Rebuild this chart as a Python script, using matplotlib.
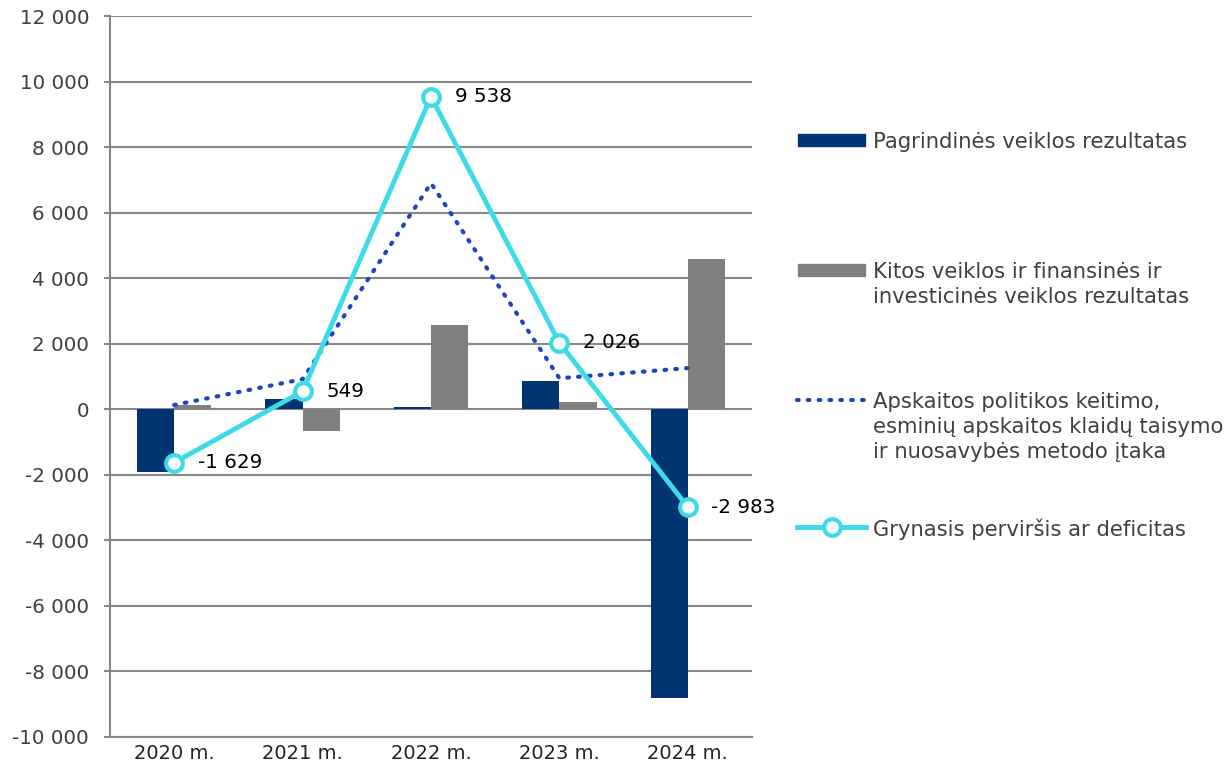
import numpy as np
import matplotlib.pyplot as plt
from matplotlib.lines import Line2D
from matplotlib.patches import Rectangle

plt.rcParams['font.family'] = ['DejaVu Sans']

years = ["2020 m.", "2021 m.", "2022 m.", "2023 m.", "2024 m."]
pagrindines = [-1900, 300, 80, 860, -8820]
kitos = [140, -670, 2560, 220, 4580]
apskaitos = [131, 919, 6898, 946, 1257]
grynasis = [-1629, 549, 9538, 2026, -2983]

labels = ["Pagrindinės veiklos rezultatas",
          "Kitos veiklos ir finansinės ir\ninvesticinės veiklos rezultatas",
          "Apskaitos politikos keitimo,\nesminių apskaitos klaidų taisymo\nir nuosavybės metodo įtaka",
          "Grynasis perviršis ar deficitas"]

navy = "#003473"
grey = "#808080"
dotblue = "#1f45c0"
cyan = "#3ddbe8"

def fmt(v):
    s = f"{abs(int(v)):,}".replace(",", " ")
    return ("-" if v < 0 else "") + s

fig = plt.figure(figsize=(12.29, 7.7), dpi=100)
ax = fig.add_axes([110/1229, 33/770, 642/1229, 721/770])

x = np.arange(len(years))
w = 0.29
ax.bar(x - w/2, pagrindines, w, color=navy, zorder=2)
ax.bar(x + w/2, kitos, w, color=grey, zorder=2)
ax.plot(x, apskaitos, color=dotblue, lw=3, ls=(0, (0.4, 2.2)), dash_capstyle='round', zorder=3)
ax.plot(x, grynasis, color=cyan, lw=3.5, marker='o', ms=12, mfc='white', mec=cyan, mew=3, zorder=4)

for xi, v in zip(x, grynasis):
    ax.annotate(fmt(v), (xi, v), xytext=(17, 0), textcoords='offset points',
                va='center', ha='left', fontsize=14.3, color='black', zorder=5)

ax.set_xlim(-0.5, 4.5)
ax.set_ylim(-10000, 12000)
ax.set_yticks(np.arange(-10000, 12001, 2000))
ax.set_yticklabels([fmt(t) for t in np.arange(-10000, 12001, 2000)])
ax.set_xticks(x)
ax.set_xticklabels(years)
ax.tick_params(axis='y', length=4.5, width=1.5, color='#888888', labelsize=14.3, labelcolor='#404040', pad=10.5)
ax.tick_params(axis='x', length=0, labelsize=14, labelcolor='#222222', pad=5)
ax.grid(axis='y', color='#888888', lw=1.5, zorder=0)
for s in ['top', 'right']:
    ax.spines[s].set_visible(False)
ax.spines['left'].set_color('#888888')
ax.spines['left'].set_linewidth(1.5)
ax.spines['bottom'].set_color('#888888')
ax.spines['bottom'].set_linewidth(1.5)

# legend, drawn by hand so handles line up with the first text line
W, H = 1229, 770
rows = [140, 270, 400, 527]
for i, (lab, yy) in enumerate(zip(labels, rows)):
    yf = 1 - yy / H
    if i == 0:
        fig.add_artist(Rectangle((798/W, yf - 6/H), 67/W, 12/H, color=navy, transform=fig.transFigure))
    elif i == 1:
        fig.add_artist(Rectangle((798/W, yf - 6/H), 67/W, 12/H, color=grey, transform=fig.transFigure))
    elif i == 2:
        fig.add_artist(Line2D([797/W, 866/W], [yf, yf], color=dotblue, lw=3, ls=(0, (0.4, 2.2)),
                              dash_capstyle='round', transform=fig.transFigure))
    else:
        fig.add_artist(Line2D([797/W, 866/W], [yf, yf], color=cyan, lw=3.5, transform=fig.transFigure))
        fig.add_artist(Line2D([832/W], [yf], color=cyan, marker='o', ms=12, mfc='white', mec=cyan,
                              mew=3, transform=fig.transFigure))
    fig.text(873/W, yf + 8/H, lab, ha='left', va='top', fontsize=15.2, color='#404040', linespacing=1.3)

fig.savefig("out.png", dpi=100)
